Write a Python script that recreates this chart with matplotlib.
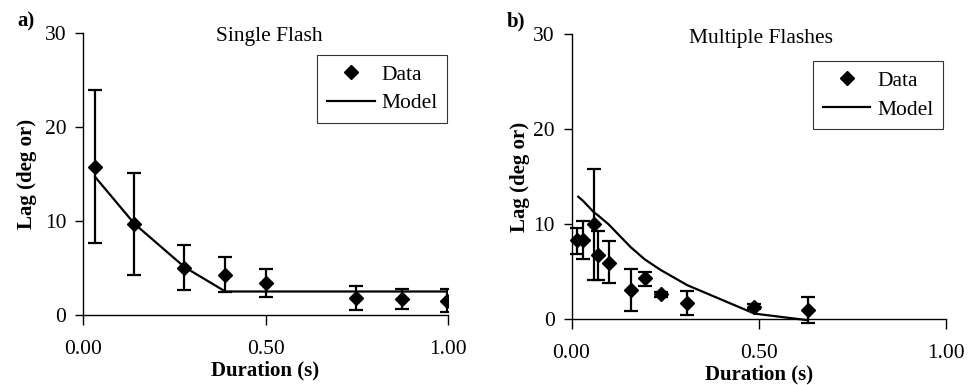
import matplotlib
matplotlib.use("Agg")
import matplotlib.pyplot as plt
import numpy as np

plt.rcParams['font.family'] = ['Liberation Serif', 'DejaVu Serif']

# Panel a: Single Flash
a_x = [0.033, 0.141, 0.278, 0.390, 0.500, 0.749, 0.873, 0.996]
a_y = [15.7, 9.65, 5.03, 4.26, 3.37, 1.84, 1.70, 1.52]
a_err_hi = [23.9, 15.07, 7.5, 6.13, 4.93, 3.05, 2.80, 2.73]
a_err_lo = [7.7, 4.26, 2.7, 2.5, 1.95, 0.53, 0.64, 0.35]
a_model = [14.7, 9.7, 5.1, 2.5, 2.5, 2.5, 2.5, 2.5]

# Panel b: Multiple Flashes
b_x = [0.014, 0.030, 0.059, 0.072, 0.099, 0.158, 0.196, 0.238, 0.309, 0.489, 0.632]
b_y = [8.3, 8.4, 10.0, 6.75, 5.95, 3.1, 4.3, 2.66, 1.68, 1.33, 0.98]
b_err_hi = [9.6, 10.35, 15.8, 9.3, 8.2, 5.3, 5.0, 2.9, 3.0, 1.6, 2.36]
b_err_lo = [6.9, 6.4, 4.1, 4.1, 3.8, 0.87, 3.5, 2.4, 0.43, 1.05, -0.4]
b_model_x = [0.018, 0.030, 0.059, 0.072, 0.099, 0.158, 0.196, 0.238, 0.309, 0.489, 0.632]
b_model_y = [12.9, 12.5, 11.3, 10.9, 10.0, 7.6, 6.3, 5.2, 3.6, 0.6, -0.1]

x_ticks = [0.0, 0.5, 1.0]
x_ticklabels = ["0.00", "0.50", "1.00"]
y_ticks = [0, 10, 20, 30]

fig = plt.figure(figsize=(9.68, 3.85), dpi=100)
W, H = 968, 385

def px_axes(l, r, t, b):
    return fig.add_axes([l / W, 1 - b / H, (r - l) / W, (b - t) / H])

axA = px_axes(83, 448, 33, 315)
axB = px_axes(571.5, 945.7, 34.3, 319.3)

FS = 15.5

def style(ax, x, y, lo, hi, mx, my, title, legend_anchor, ylabel_x, title_x):
    yerr = [np.array(y) - np.array(lo), np.array(hi) - np.array(y)]
    ax.errorbar(x, y, yerr=yerr, fmt='none', ecolor='black', elinewidth=1.6,
                capsize=5, capthick=1.6, zorder=3)
    ax.plot(x, y, linestyle='none', marker='D', color='black', markersize=7.3,
            label='Data', zorder=4)
    ax.plot(mx, my, color='black', linewidth=1.6, label='Model', zorder=2)
    ax.set_xlim(0, 1.0)
    ax.set_ylim(0, 30)
    ax.set_xticks(x_ticks)
    ax.set_xticklabels(x_ticklabels)
    ax.set_yticks(y_ticks)
    for s in ['top', 'right']:
        ax.spines[s].set_visible(False)
    ax.spines['left'].set_linewidth(1.0)
    ax.spines['bottom'].set_linewidth(1.0)
    ax.tick_params(axis='x', direction='out', length=7, width=1.0, pad=11, labelsize=FS)
    ax.tick_params(axis='y', direction='out', length=6, width=1.0, pad=6, labelsize=FS)
    ax.set_title(title, fontsize=FS, y=0.97, x=title_x, pad=0)
    ax.set_xlabel('Duration (s)', fontsize=15, fontweight='bold', labelpad=1)
    ax.set_ylabel('Lag (deg or)', fontsize=15, fontweight='bold')
    ax.yaxis.set_label_coords(ylabel_x, 0.5)
    leg = ax.legend(loc='upper right', bbox_to_anchor=legend_anchor, fontsize=FS,
                    frameon=True, fancybox=False, edgecolor='black',
                    handlelength=2.2, borderpad=0.45, labelspacing=0.4,
                    handletextpad=0.3, borderaxespad=0)
    leg.get_frame().set_linewidth(0.8)

style(axA, a_x, a_y, a_err_lo, a_err_hi, a_x, a_model, 'Single Flash',
      (0.997, 0.922), -0.126, 0.51)
style(axB, b_x, b_y, b_err_lo, b_err_hi, b_model_x, b_model_y, 'Multiple Flashes',
      (0.9925, 0.906), -0.112, 0.506)
for l in axB.get_lines():
    l.set_clip_on(False)
for c in axB.collections:
    c.set_clip_on(False)

fig.text(17 / W, 1 - 21 / H, 'a)', fontsize=15, fontweight='bold', va='center', ha='left')
fig.text(507 / W, 1 - 21 / H, 'b)', fontsize=15, fontweight='bold', va='center', ha='left')

fig.savefig('out.png', dpi=100)
